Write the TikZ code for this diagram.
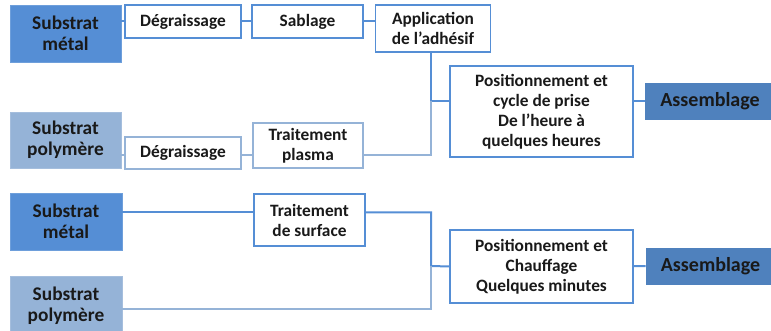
\documentclass[tikz,border=0pt]{standalone}
\usepackage{fontspec}
\setmainfont{Carlito}
\usetikzlibrary{positioning}
\definecolor{metalblue}{RGB}{85,142,213}
\definecolor{polyblue}{RGB}{149,179,215}
\definecolor{asmblue}{RGB}{79,129,189}
\definecolor{txt}{RGB}{25,25,25}

\begin{document}
\begin{tikzpicture}[x=0.75pt, y=-0.75pt,
        base/.style   = {inner sep=0pt, align=center, text=txt, font=\fontsize{13}{15}\selectfont\bfseries},
        metal/.style  = {base, fill=metalblue, draw=metalblue!85!white, line width=0.6pt, font=\fontsize{14.5}{15.5}\selectfont\bfseries},
        poly/.style   = {base, fill=polyblue, draw=polyblue!85!white, line width=0.6pt, font=\fontsize{14.5}{15.5}\selectfont\bfseries},
        etape/.style  = {base, draw=metalblue, line width=1.2pt, fill=white},
        etapeb/.style = {base, draw=polyblue, line width=1.2pt, fill=white},
        asm/.style    = {base, fill=asmblue, draw=asmblue, font=\fontsize{15}{16}\selectfont\bfseries},
        ln/.style     = {draw=metalblue, line width=1.5pt},
        lnb/.style    = {draw=polyblue, line width=1.5pt}
    ]
        \useasboundingbox (0,0) rectangle (771,331);

        % collage
        \node[metal,  minimum width=83.25pt, minimum height=42.75pt] (m1)   at (65.5,33.5)  {Substrat\\métal};
        \node[etape,  minimum width=87pt,    minimum height=24.75pt] (d1)   at (183,21.5)   {Dégraissage};
        \node[etape,  minimum width=83.25pt, minimum height=24.75pt] (s1)   at (307.5,21.5) {Sablage};
        \node[etape,  minimum width=86.25pt, minimum height=35.25pt] (app)  at (433,28.5)   {Application\\de l’adhésif};
        \node[etape,  minimum width=137.25pt,minimum height=68.25pt] (pos1) at (541.5,111.5){Positionnement et\\cycle de prise\\De l’heure à\\quelques heures};
        \node[asm,    minimum width=97.5pt,  minimum height=27pt]    (as1)  at (710,101)    {Assemblage};
        \node[poly,   minimum width=83.25pt, minimum height=42pt]    (p1)   at (65.5,140)   {Substrat\\polymère};
        \node[etapeb, minimum width=87pt,    minimum height=24pt]    (d2)   at (183,153)    {Dégraissage};
        \node[etapeb, minimum width=82.5pt,  minimum height=33.75pt] (tp)   at (308,145.5)  {Traitement\\plasma};

        \coordinate (j1) at (431,101);
        \coordinate (b1) at (431,155);

        \draw[ln] (m1.east |- d1) -- (d1);
        \draw[ln] (d1) -- (s1);
        \draw[ln] (s1) -- (s1 -| app.west);
        \draw[ln] (app.south -| j1) -- (j1) -- (j1 -| pos1.west);
        \draw[ln] (pos1.east |- as1) -- (as1);
        \draw[lnb] (p1.east |- b1) -- (d2.west |- b1);
        \draw[lnb] (d2.east |- b1) -- (tp.west |- b1);
        \draw[lnb] (tp.east |- b1) -- (b1) -- (j1);

        % soudage
        \node[metal,  minimum width=84pt,    minimum height=42.75pt] (m2)   at (66,221.5)   {Substrat\\métal};
        \node[etape,  minimum width=83.25pt, minimum height=39pt]    (ts)   at (309.5,220)  {Traitement\\de surface};
        \node[etape,  minimum width=137.25pt,minimum height=54.75pt] (pos2) at (541.5,266.5){Positionnement et\\Chauffage\\Quelques minutes};
        \node[asm,    minimum width=96.75pt, minimum height=27pt]    (as2)  at (710.5,266)  {Assemblage};
        \node[poly,   minimum width=84pt,    minimum height=45pt]    (p2)   at (66,306)     {Substrat\\polymère};

        \coordinate (t2) at (431,212.5);
        \coordinate (j2) at (431,266);
        \coordinate (b2) at (431,309);

        \draw[ln] (m2.east |- t2) -- (ts.west |- t2);
        \draw[ln] (ts.east |- t2) -- (t2) -- (j2) -- (pos2.west);
        \draw[ln] (pos2) -- (as2);
        \draw[lnb] (p2.east |- b2) -- (b2) -- (j2);
\end{tikzpicture}
\end{document}
